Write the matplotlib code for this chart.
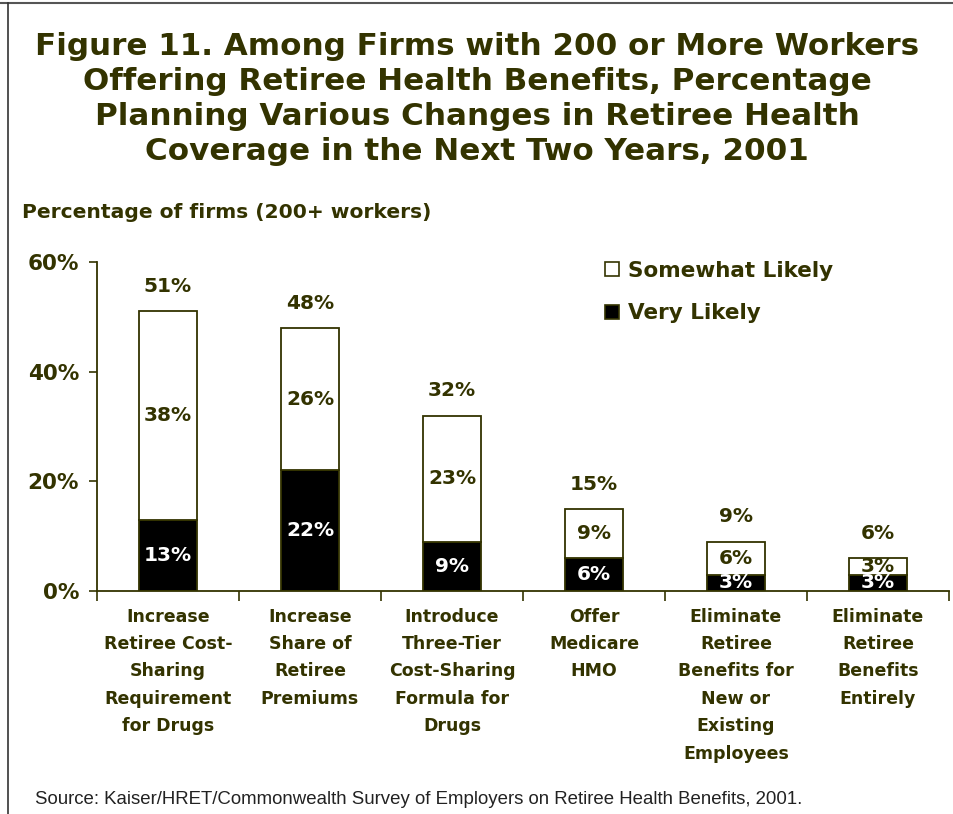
import numpy as np
import matplotlib
matplotlib.use("Agg")
from matplotlib import pyplot as plt
from matplotlib.patches import Patch
from matplotlib.lines import Line2D

categories = [
  "Increase\nRetiree Cost-\nSharing\nRequirement\nfor Drugs",
  "Increase\nShare of\nRetiree\nPremiums",
  "Introduce\nThree-Tier\nCost-Sharing\nFormula for\nDrugs",
  "Offer\nMedicare\nHMO",
  "Eliminate\nRetiree\nBenefits for\nNew or\nExisting\nEmployees",
  "Eliminate\nRetiree\nBenefits\nEntirely",
]
very_likely = [13, 22, 9, 6, 3, 3]
somewhat_likely = [38, 26, 23, 9, 6, 3]
totals = [51, 48, 32, 15, 9, 6]
yticks = [0, 20, 40, 60]

olive = "#333300"
bold = "bold"


def main():
  fig = plt.figure(figsize=(9.54, 8.14), dpi=100)
  ax = fig.add_axes([97 / 954, 223 / 814, 852 / 954, 329 / 814])

  x = np.arange(len(categories))
  w = 0.41
  ax.bar(x, very_likely, w, color="black", edgecolor=olive, linewidth=1.3)
  ax.bar(x, somewhat_likely, w, bottom=very_likely, color="white",
         edgecolor=olive, linewidth=1.3)

  # segment and total labels
  for i in range(len(x)):
    ax.text(x[i], very_likely[i] / 2, "%d%%" % very_likely[i], ha="center",
            va="center", color="white", fontsize=14.5, fontweight=bold)
    ax.text(x[i], very_likely[i] + somewhat_likely[i] / 2,
            "%d%%" % somewhat_likely[i], ha="center", va="center",
            color=olive, fontsize=14.5, fontweight=bold)
    ax.text(x[i], totals[i] + 4.5, "%d%%" % totals[i], ha="center",
            va="center", color=olive, fontsize=14.5, fontweight=bold)

  ax.set_xlim(-0.5, len(categories) - 0.5)
  ax.set_ylim(0, 60)
  ax.set_yticks(yticks)
  ax.set_yticklabels(["%d%%" % t for t in yticks], fontsize=15.5,
                     fontweight=bold, color=olive)
  ax.tick_params(axis="y", length=6, width=1.2, color=olive, pad=7)

  # category ticks sit between bars, labels centred under bars
  ax.set_xticks(np.arange(len(categories) + 1) - 0.5)
  ax.set_xticklabels([])
  ax.tick_params(axis="x", length=7, width=1.2, color=olive)
  for i, c in enumerate(categories):
    ax.text(x[i], -3.05, c, ha="center", va="top", fontsize=12.5,
            fontweight=bold, color=olive, linespacing=1.67)

  for s in ["top", "right"]:
    ax.spines[s].set_visible(False)
  for s in ["left", "bottom"]:
    ax.spines[s].set_color(olive)
    ax.spines[s].set_linewidth(1.3)

  handles = [Patch(facecolor="white", edgecolor=olive, linewidth=1.2),
             Patch(facecolor="black", edgecolor=olive, linewidth=1.2)]
  fig.legend(handles, ["Somewhat Likely", "Very Likely"],
             loc="upper left", bbox_to_anchor=(594 / 954, 1 - 250 / 814),
             frameon=False, handlelength=0.65, handleheight=0.65,
             handletextpad=0.45, labelspacing=1.05, borderpad=0,
             prop={"size": 15.5, "weight": "bold"}, labelcolor=olive)

  fig.text(0.5, 1 - 99 / 814,
           "Figure 11. Among Firms with 200 or More Workers\n"
           "Offering Retiree Health Benefits, Percentage\n"
           "Planning Various Changes in Retiree Health\n"
           "Coverage in the Next Two Years, 2001",
           ha="center", va="center", fontsize=22.3, fontweight=bold,
           color=olive, linespacing=1.27)
  fig.text(22 / 954, 1 - 212 / 814, "Percentage of firms (200+ workers)",
           ha="left", va="center", fontsize=14.6, fontweight=bold, color=olive)
  fig.text(35 / 954, 1 - 800 / 814,
           "Source: Kaiser/HRET/Commonwealth Survey of Employers on Retiree "
           "Health Benefits, 2001.", ha="left", va="center", fontsize=13.4,
           family="Liberation Sans", color="#222222")

  # frame lines at top and left of the slide
  fig.add_artist(Line2D([0, 1], [1 - 3 / 814, 1 - 3 / 814], color="#555555",
                        linewidth=1.5, transform=fig.transFigure))
  fig.add_artist(Line2D([8 / 954, 8 / 954], [0, 1 - 3 / 814], color="#333333",
                        linewidth=1.2, transform=fig.transFigure))

  fig.savefig("out.png", dpi=100)


if __name__ == '__main__':
  main()
